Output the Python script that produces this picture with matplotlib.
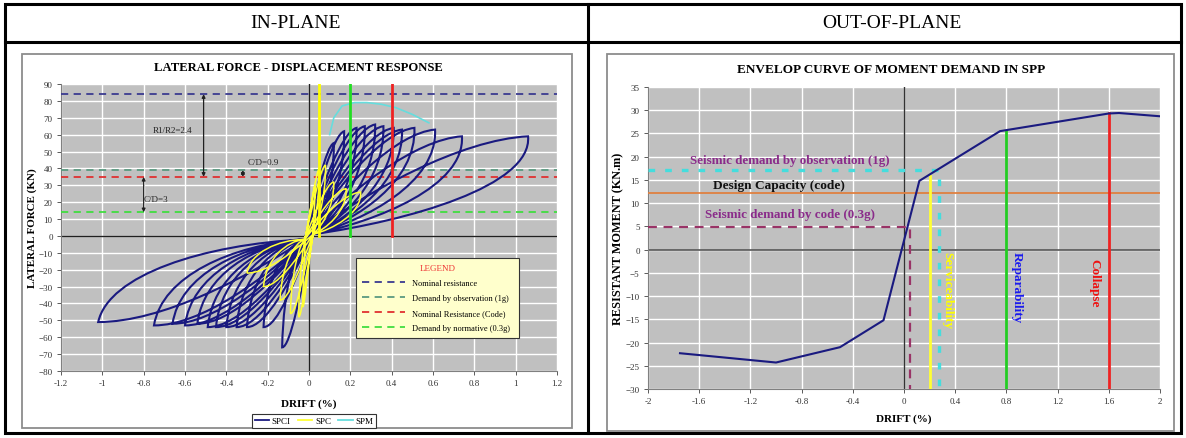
import matplotlib
matplotlib.use('Agg')
import matplotlib.pyplot as plt
from matplotlib.path import Path
from matplotlib.patches import PathPatch, Rectangle
from matplotlib.lines import Line2D

plt.rcParams['font.family'] = ['Liberation Serif', 'DejaVu Serif']

W, H = 1186, 439

# ---------------- IN-PLANE data ----------------
inplane_xticks = [-1.2, -1.0, -0.8, -0.6, -0.4, -0.2, 0.0, 0.2, 0.4, 0.6, 0.8, 1.0, 1.2]
inplane_xlabels = ['-1.2', '-1', '-0.8', '-0.6', '-0.4', '-0.2', '0', '0.2', '0.4', '0.6', '0.8', '1', '1.2']
inplane_yticks = list(range(-80, 91, 10))

# SPCI cycle peaks (positive and negative)
spci_pos_drift = [0.12, 0.17, 0.23, 0.27, 0.32, 0.36, 0.41, 0.45, 0.51, 0.61, 0.74, 1.06]
spci_pos_force = [55, 62, 64, 65, 66, 65, 64, 63, 64, 63, 59, 59]
spci_neg_drift = [-0.13, -0.22, -0.30, -0.35, -0.40, -0.45, -0.49, -0.54, -0.60, -0.66, -0.75, -1.02]
spci_neg_force = [-66, -54, -54, -54, -54, -54, -54, -52, -53, -52, -53, -51]

# SPC cycle peaks
spc_pos_drift = [0.03, 0.05, 0.08, 0.12, 0.18, 0.25]
spc_pos_force = [30, 40, 42, 32, 28, 26]
spc_neg_drift = [-0.03, -0.05, -0.09, -0.14, -0.22, -0.30]
spc_neg_force = [-42, -48, -46, -38, -30, -22]

# SPM envelope arc
spm_drift = [0.10, 0.12, 0.16, 0.22, 0.28, 0.35, 0.42, 0.50, 0.58]
spm_force = [60, 70, 77, 79, 79, 78, 76, 72, 67]

series_names = ['SPCI', 'SPC', 'SPM']
series_colors = ['#1a1a80', '#ffff33', '#66dddd']

limit_names = ['Nominal resistance', 'Demand by observation (1g)',
               'Nominal Resistance (Code)', 'Demand by normative (0.3g)']
limit_forces = [84, 39, 35, 14]
limit_colors = ['#3a3a90', '#5a9a80', '#e03030', '#40dd40']

marker_drifts = [0.05, 0.2, 0.4]
marker_colors = ['#ffff00', '#22dd22', '#ee2222']

ratio_labels = ['R1/R2=2.4', 'C/D=0.9', 'C/D=3']
ratio_arrow_x = [-0.51, -0.32, -0.80]
ratio_arrow_from = [84, 39, 35]
ratio_arrow_to = [35, 35, 14]
ratio_text_x = [-0.66, -0.22, -0.74]
ratio_text_y = [63, 44, 22]

# ---------------- OUT-OF-PLANE data ----------------
oop_xticks = [-2.0, -1.6, -1.2, -0.8, -0.4, 0.0, 0.4, 0.8, 1.2, 1.6, 2.0]
oop_xlabels = ['-2', '-1.6', '-1.2', '-0.8', '-0.4', '0', '0.4', '0.8', '1.2', '1.6', '2']
oop_yticks = list(range(-30, 36, 5))

env_drift = [-1.75, -1.0, -0.5, -0.16, 0.12, 0.75, 1.6, 1.68, 2.0]
env_moment = [-22.3, -24.3, -21.0, -15.2, 14.8, 25.5, 29.3, 29.4, 28.7]

demand_obs_moment = 17.2
demand_obs_drift = 0.27
capacity_moment = 12.2
demand_code_moment = 4.8
demand_code_drift = 0.05

state_labels = ['Serviceability', 'Reparability', 'Collapse']
state_drifts = [0.2, 0.8, 1.6]
state_tops = [15.8, 25.5, 29.3]
state_colors = ['#ffff33', '#22cc22', '#ee2222']
state_text_colors = ['#ffff00', '#1a1aee', '#ee1111']
state_text_x = [0.34, 0.88, 1.49]
state_text_y = [-8.5, -8.0, -7.0]

# ---------------- figure ----------------
fig = plt.figure(figsize=(W / 100, H / 100), dpi=100)
fig.patch.set_facecolor('white')

bg = fig.add_axes([0, 0, 1, 1], zorder=0)
bg.set_xlim(0, W)
bg.set_ylim(H, 0)
bg.axis('off')

# table
bg.add_patch(Rectangle((5, 5), 1176, 429, fill=False, ec='black', lw=2.2))
bg.plot([5, 1181], [43, 43], color='black', lw=2.2)
bg.plot([588, 588], [5, 434], color='black', lw=2.2)
bg.text(296, 24, 'IN-PLANE', ha='center', va='center', fontsize=14)
bg.text(892, 24, 'OUT-OF-PLANE', ha='center', va='center', fontsize=14)

# chart frames
bg.add_patch(Rectangle((22, 55), 550, 374, fc='white', ec='#8c8c8c', lw=1.3))
bg.add_patch(Rectangle((607, 55), 567, 377, fc='white', ec='#8c8c8c', lw=1.3))
bg.text(298, 68, 'LATERAL FORCE - DISPLACEMENT RESPONSE', ha='center', va='center',
        fontsize=9.1, fontweight='bold')
bg.text(891, 70, 'ENVELOP CURVE OF MOMENT DEMAND IN SPP', ha='center', va='center',
        fontsize=9.5, fontweight='bold')


def style_axes(ax):
    ax.set_facecolor('#c0c0c0')
    ax.grid(True, color='white', lw=1.0)
    ax.set_axisbelow(True)
    for s in ['top', 'right']:
        ax.spines[s].set_visible(False)
    for s in ['left', 'bottom']:
        ax.spines[s].set_color('#808080')
    ax.tick_params(labelsize=6.5, length=3, width=0.6, color='#404040', labelcolor='#333333', pad=3)


def cycle_path(pd, pf, nd, nf):
    verts = [(-0.02, -2),
             (0.25 * pd, 0.45 * pf), (0.7 * pd, 0.97 * pf), (pd, pf),
             (pd * 1.02, 0.5 * pf), (0.45 * pd, 0.15 * pf), (0.02, 1),
             (0.3 * nd, 0.5 * nf), (0.7 * nd, nf), (nd, nf),
             (0.95 * nd, 0.45 * nf), (0.5 * nd, 0.1 * nf), (-0.02, -2)]
    codes = [Path.MOVETO] + [Path.CURVE4] * 12
    return verts, codes


def hysteresis(ax, pdr, pfo, ndr, nfo, color, lw, z):
    verts, codes = [], []
    for a, b, c, d in zip(pdr, pfo, ndr, nfo):
        v, k = cycle_path(a, b, c, d)
        verts += v
        codes += k
    ax.add_patch(PathPatch(Path(verts, codes), fill=False, ec=color, lw=lw, zorder=z))


# ---------------- left chart ----------------
ax1 = fig.add_axes([61 / W, 1 - 372 / H, 496 / W, 287 / H], zorder=2)
style_axes(ax1)
ax1.set_xlim(-1.2, 1.2)
ax1.set_ylim(-80, 90)
ax1.set_xticks(inplane_xticks)
ax1.set_xticklabels(inplane_xlabels)
ax1.set_yticks(inplane_yticks)
ax1.axhline(0, color='#202020', lw=1.0, zorder=2)
ax1.axvline(0, color='#202020', lw=1.0, zorder=2)

limit_lines = []
for f, c in zip(limit_forces, limit_colors):
    ln = ax1.axhline(f, color=c, ls=(0, (4, 3)), lw=1.3, zorder=3)
    limit_lines.append(ln)

hysteresis(ax1, spci_pos_drift, spci_pos_force, spci_neg_drift, spci_neg_force,
           series_colors[0], 1.5, 4)
hysteresis(ax1, spc_pos_drift, spc_pos_force, spc_neg_drift, spc_neg_force,
           series_colors[1], 1.1, 5)
ax1.plot(spm_drift, spm_force, color=series_colors[2], lw=1.2, zorder=4)

for d, c in zip(marker_drifts, marker_colors):
    ax1.plot([d, d], [0, 90], color=c, lw=2.0, zorder=6)

for lab, ax_, yf, yt, tx, ty in zip(ratio_labels, ratio_arrow_x, ratio_arrow_from,
                                    ratio_arrow_to, ratio_text_x, ratio_text_y):
    ax1.annotate('', xy=(ax_, yt), xytext=(ax_, yf),
                 arrowprops=dict(arrowstyle='<|-|>', color='#202020', lw=0.9,
                                 mutation_scale=5, shrinkA=0, shrinkB=0), zorder=7)
    ax1.text(tx, ty, lab, fontsize=6.5, ha='center', va='center', color='#222222', zorder=7)

ax1.set_ylabel('LATERAL FORCE (KN)', fontsize=7.9, fontweight='bold', labelpad=1)
ax1.set_xlabel('DRIFT (%)', fontsize=8, fontweight='bold', labelpad=8)

leg1 = ax1.legend(limit_lines, limit_names, loc='upper left',
                  bbox_to_anchor=(0.587, 0.308, 0.344, 0.1), mode='expand',
                  fontsize=6, title='LEGEND', title_fontsize=6.5,
                  facecolor='#ffffcc', edgecolor='#333333', framealpha=1, fancybox=False,
                  handlelength=5.2, labelspacing=0.85, borderpad=0.7, handletextpad=0.8)
leg1.get_title().set_color('#ee3333')
leg1.get_frame().set_linewidth(0.8)
ax1.add_artist(leg1)

proxies = [Line2D([], [], color=c, lw=1.3) for c in series_colors]
leg2 = ax1.legend(proxies, series_names, loc='upper center', bbox_to_anchor=(0.51, -0.135),
                  ncol=3, fontsize=6.5, frameon=True, fancybox=False, edgecolor='#333333',
                  facecolor='white', framealpha=1, handlelength=1.6, handletextpad=0.3,
                  columnspacing=0.8, borderpad=0.3)
leg2.get_frame().set_linewidth(0.8)

# ---------------- right chart ----------------
ax2 = fig.add_axes([648 / W, 1 - 390 / H, 512 / W, 302 / H], zorder=2)
style_axes(ax2)
ax2.set_xlim(-2, 2)
ax2.set_ylim(-30, 35)
ax2.set_xticks(oop_xticks)
ax2.set_xticklabels(oop_xlabels)
ax2.set_yticks(oop_yticks)
ax2.axhline(0, color='#555555', lw=1.2, zorder=2)
ax2.axvline(0, color='#333333', lw=1.0, zorder=2)

ax2.axhline(capacity_moment, color='#e08040', lw=1.3, zorder=3)
ax2.plot([-2, demand_obs_drift, demand_obs_drift], [demand_obs_moment, demand_obs_moment, -30],
         color='#44dddd', lw=2.4, ls=(0, (2, 3)), zorder=3)
ax2.plot([-2, demand_code_drift, demand_code_drift], [demand_code_moment, demand_code_moment, -30],
         color='#993366', lw=1.6, ls=(0, (4, 3)), zorder=3)
for d, top, c in zip(state_drifts, state_tops, state_colors):
    ax2.plot([d, d], [-30, top], color=c, lw=2.0, zorder=4)

ax2.plot(env_drift, env_moment, color='#1a1a80', lw=1.5, zorder=5)

ax2.text(-0.89, 19.2, 'Seismic demand by observation (1g)', color='#8a2b8a', fontsize=9.4,
         fontweight='bold', ha='center', va='center', zorder=6)
ax2.text(-0.98, 13.9, 'Design Capacity (code)', color='#111111', fontsize=9.6,
         fontweight='bold', ha='center', va='center', zorder=6)
ax2.text(-0.89, 7.7, 'Seismic demand by code (0.3g)', color='#8a2b8a', fontsize=9.4,
         fontweight='bold', ha='center', va='center', zorder=6)
for lab, tx, ty, c in zip(state_labels, state_text_x, state_text_y, state_text_colors):
    ax2.text(tx, ty, lab, rotation=-90, color=c, fontsize=9.5, fontweight='bold',
             ha='center', va='center', zorder=6)

ax2.set_ylabel('RESISTANT MOMENT (KN.m)', fontsize=8.8, fontweight='bold', labelpad=1)
ax2.set_xlabel('DRIFT (%)', fontsize=8, fontweight='bold', labelpad=6)

fig.savefig('out.png', dpi=100)
